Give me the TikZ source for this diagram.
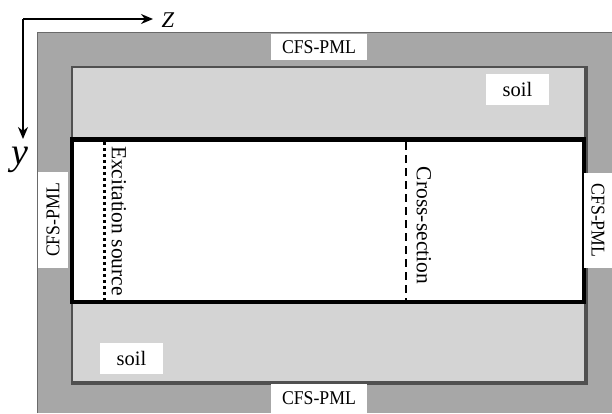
\documentclass[tikz,border=0pt]{standalone}
\usepackage{fontspec}
\setmainfont{Liberation Serif}
\usetikzlibrary{arrows.meta}
\definecolor{pmlgray}{HTML}{A7A7A7}
\definecolor{pmledge}{HTML}{6A6A6A}
\definecolor{soilgray}{HTML}{D4D4D4}
\definecolor{soiledge}{HTML}{505050}
\newcommand{\pmltext}{\scalebox{0.91}[1]{CFS-PML}}
\begin{document}
\begin{tikzpicture}[x=1pt,y=-1pt,
  tag/.style={fill=white, inner sep=0pt, font=\fontsize{19.5}{19.5}\selectfont},
  soiltag/.style={fill=white, inner sep=0pt, minimum width=63pt, minimum height=31pt,
    font=\fontsize{20.5}{20.5}\selectfont},
  soilbox/.style={draw=soiledge, line width=2pt, fill=soilgray, inner sep=0pt},
  domainbox/.style={draw=black, line width=4.5pt, fill=white, inner sep=0pt},
  vtext/.style={font=\fontsize{21.5}{21.5}\selectfont, inner sep=0pt},
  axis/.style={line width=1.8pt, -{Stealth[length=12pt,width=10pt]}},
]
\useasboundingbox (0,0) rectangle (612,413);

% absorbing outer layer
\fill[pmlgray] (37,32) rectangle (612,413);
\draw[pmledge, line width=1.5pt] (37.5,413) -- (37.5,32.5) -- (612,32.5);

% soil layer with a darker lower/right rim
\node[soilbox, minimum width=513pt, minimum height=315pt] (soil) at (328.5,224.5) {};
\draw[soiledge, line width=3.5pt] (soil.south west) -- (soil.south east) -- (soil.north east);

% computational domain
\node[domainbox, minimum width=512pt, minimum height=162.5pt] (dom) at (328,220.75) {};

% source and observation lines
\coordinate (exctop) at (104,142);
\coordinate (excbot) at (104,300);
\draw[line width=3pt, dash pattern=on 3pt off 3pt] (exctop) -- (excbot);
\coordinate (crstop) at (406,142);
\coordinate (crsbot) at (406,300);
\draw[line width=1.8pt, dash pattern=on 8pt off 5pt] (crstop) -- (crsbot);
\node[vtext, rotate=-90] (exc) at (119,221) {Excitation source};
\node[vtext, rotate=-90] (crs) at (424,225.5) {Cross-section};

% layer labels
\node[tag, minimum width=96pt, minimum height=26pt] (pmltop) at (319,47) {\pmltext};
\node[tag, minimum width=96pt, minimum height=29pt] (pmlbot) at (319,398) {\pmltext};
\node[tag, rotate=90, minimum width=96pt, minimum height=30pt] (pmlleft) at (53,220) {\pmltext};
\node[tag, rotate=-90, minimum width=95pt, minimum height=28pt] (pmlright) at (598,220.5) {\pmltext};
\node[soiltag] (soiltop) at (517.5,89) {soil};
\node[soiltag] (soilbot) at (131.5,358.5) {soil};

% coordinate axes
\coordinate (origin) at (23,19);
\coordinate (zend) at (153,19);
\coordinate (yend) at (23,139);
\draw[axis] (origin) -- (zend);
\draw[axis] (origin) -- (yend);
\node[anchor=base, inner sep=0pt, font=\fontsize{22.5}{22.5}\selectfont\itshape] (zlab) at (168,27) {Z};
\node[anchor=base, inner sep=0pt, font=\fontsize{38}{38}\selectfont\itshape] (ylab) at (20,164.5) {y};
\end{tikzpicture}
\end{document}
